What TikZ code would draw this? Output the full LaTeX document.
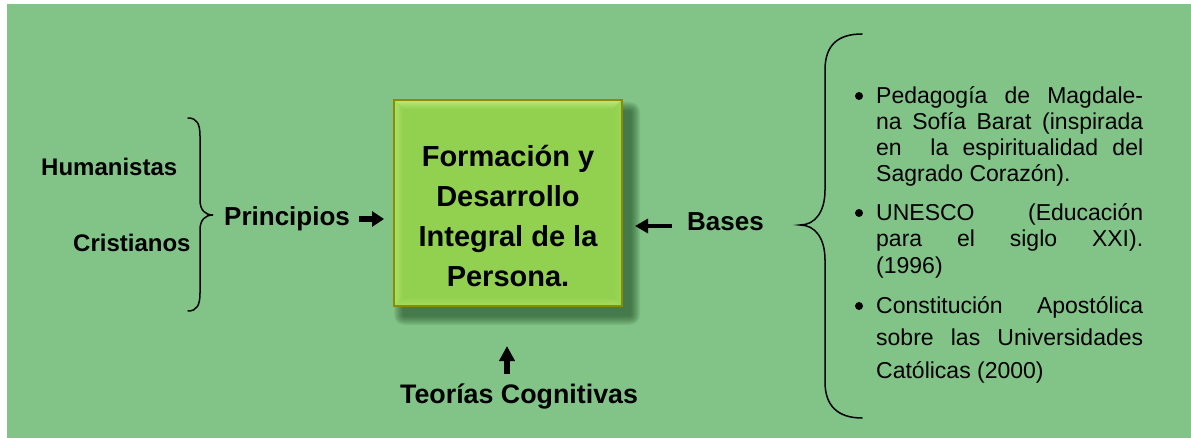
\documentclass[tikz,border=0pt]{standalone}
\usepackage{fontspec}
\setmainfont{Liberation Sans}
\usetikzlibrary{arrows.meta}
\definecolor{bgcol}{RGB}{130,195,135}
\definecolor{boxfill}{RGB}{146,208,80}
\definecolor{bevtop}{RGB}{188,232,122}
\definecolor{bevleft}{RGB}{172,224,102}
\definecolor{bevbot}{RGB}{168,220,92}
\definecolor{bevright}{RGB}{158,214,86}
\definecolor{boxborder}{RGB}{140,140,0}
\definecolor{shadowcol}{RGB}{20,60,25}
\begin{document}
\begin{tikzpicture}[x=1pt,y=-1pt,
  lbl/.style={font=\fontsize{26}{30}\selectfont\bfseries, inner sep=0, anchor=base west},
  sublbl/.style={font=\fontsize{24}{28}\selectfont\bfseries, inner sep=0, anchor=base west},
  boxtext/.style={font=\fontsize{29}{40}\selectfont\bfseries, align=center, inner sep=0, anchor=base},
  item/.style={font=\fontsize{23}{26.3}\selectfont, align=left, inner sep=0, anchor=base west},
  bul/.style={circle, fill=black, inner sep=0, minimum size=8pt},
  brace/.style={line width=1.5pt, line cap=round},
  arr/.style={line width=5.5pt, -{Triangle[length=12pt,width=15pt]}},
  arrthin/.style={line width=4.5pt, -{Triangle[length=13pt,width=14pt]}},
  arrup/.style={line width=6pt, -{Triangle[length=15pt,width=15pt]}},
]
\useasboundingbox (0,0) rectangle (1191,438);
\fill[bgcol] (7,4) rectangle (1191,438);

% shadow of the central box
\foreach \i in {1,...,10}
  \fill[shadowcol, opacity=0.07, rounded corners=\i pt]
    (404-\i,112-\i) rectangle (630+\i,315+\i);

% central box
\node[fill=boxfill, minimum width=228pt, minimum height=206pt, inner sep=0, outer sep=0, anchor=north west] (box) at (394,100) {};
\shade[top color=bevtop, bottom color=boxfill] (box.north west) -- (box.north east) -- ++(-9,9) -- (403,109) -- cycle;
\shade[left color=bevleft, right color=boxfill] (box.north west) -- (403,109) -- (403,297) -- (box.south west) -- cycle;
\shade[bottom color=bevbot, top color=boxfill] (box.south west) -- (403,297) -- (613,297) -- (box.south east) -- cycle;
\shade[right color=bevright, left color=boxfill] (box.north east) -- (613,109) -- (613,297) -- (box.south east) -- cycle;
\draw[boxborder, line width=1.6pt] (box.north west) rectangle (box.south east);
\node[boxtext] (boxtxt) at (508,287) {Formación y\\Desarrollo\\Integral de la\\Persona.};

% left side
\node[sublbl] (hum) at (41,176) {Humanistas};
\node[sublbl] (cri) at (73,252) {Cristianos};
\draw[brace] (188,118) .. controls (197,118) and (200,124) .. (200,136) -- (200,200)
  .. controls (200,210) and (205,215) .. (213,215)
  .. controls (205,215) and (200,220) .. (200,230) -- (200,293)
  .. controls (200,305) and (197,311) .. (188,311);
\node[lbl] (princ) at (224,226) {Principios};
\coordinate (pa) at (0,219);
\draw[arr, shorten <=9pt, shorten >=10pt] (princ.east |- pa) -- (box.west |- pa);

% right side
\node[lbl] (bases) at (687,231) {Bases};
\coordinate (ba) at (0,226);
\draw[arrthin, shorten <=15pt, shorten >=13pt] (bases.west |- ba) -- (box.east |- ba);
\draw[brace] (862,34) .. controls (838,34) and (825,45) .. (825,70) -- (825,190)
  .. controls (825,212) and (815,225) .. (800,225)
  .. controls (815,225) and (825,238) .. (825,260) -- (825,382)
  .. controls (825,406) and (838,418) .. (862,418);

\node[bul] (b1) at (859,96) {};
\node[bul] (b2) at (859,213) {};
\node[bul] (b3) at (859,306) {};
\node[item] (it1) at (876,182) {\makebox[267pt][s]{Pedagogía de Magdale-}\\
\makebox[267pt][s]{na Sofía Barat (inspirada}\\
\makebox[267pt][s]{en\ \ la espiritualidad del}\\
Sagrado Corazón).};
\node[item] (it2) at (876,273) {\makebox[267pt][s]{UNESCO (Educación}\\
\makebox[267pt][s]{para el siglo XXI).}\\
(1996)};
\node[item, font=\fontsize{23}{32.5}\selectfont] (it3) at (876,378) {\makebox[267pt][s]{Constitución Apostólica}\\
\makebox[267pt][s]{sobre las Universidades}\\
Católicas (2000)};

% bottom
\node[lbl, font=\fontsize{26.8}{30}\selectfont\bfseries] (teo) at (400,403) {Teorías Cognitivas};
\coordinate (ua) at (507,0);
\draw[arrup, shorten <=9pt, shorten >=40pt] (teo.north -| ua) -- (box.south -| ua);
\end{tikzpicture}
\end{document}
